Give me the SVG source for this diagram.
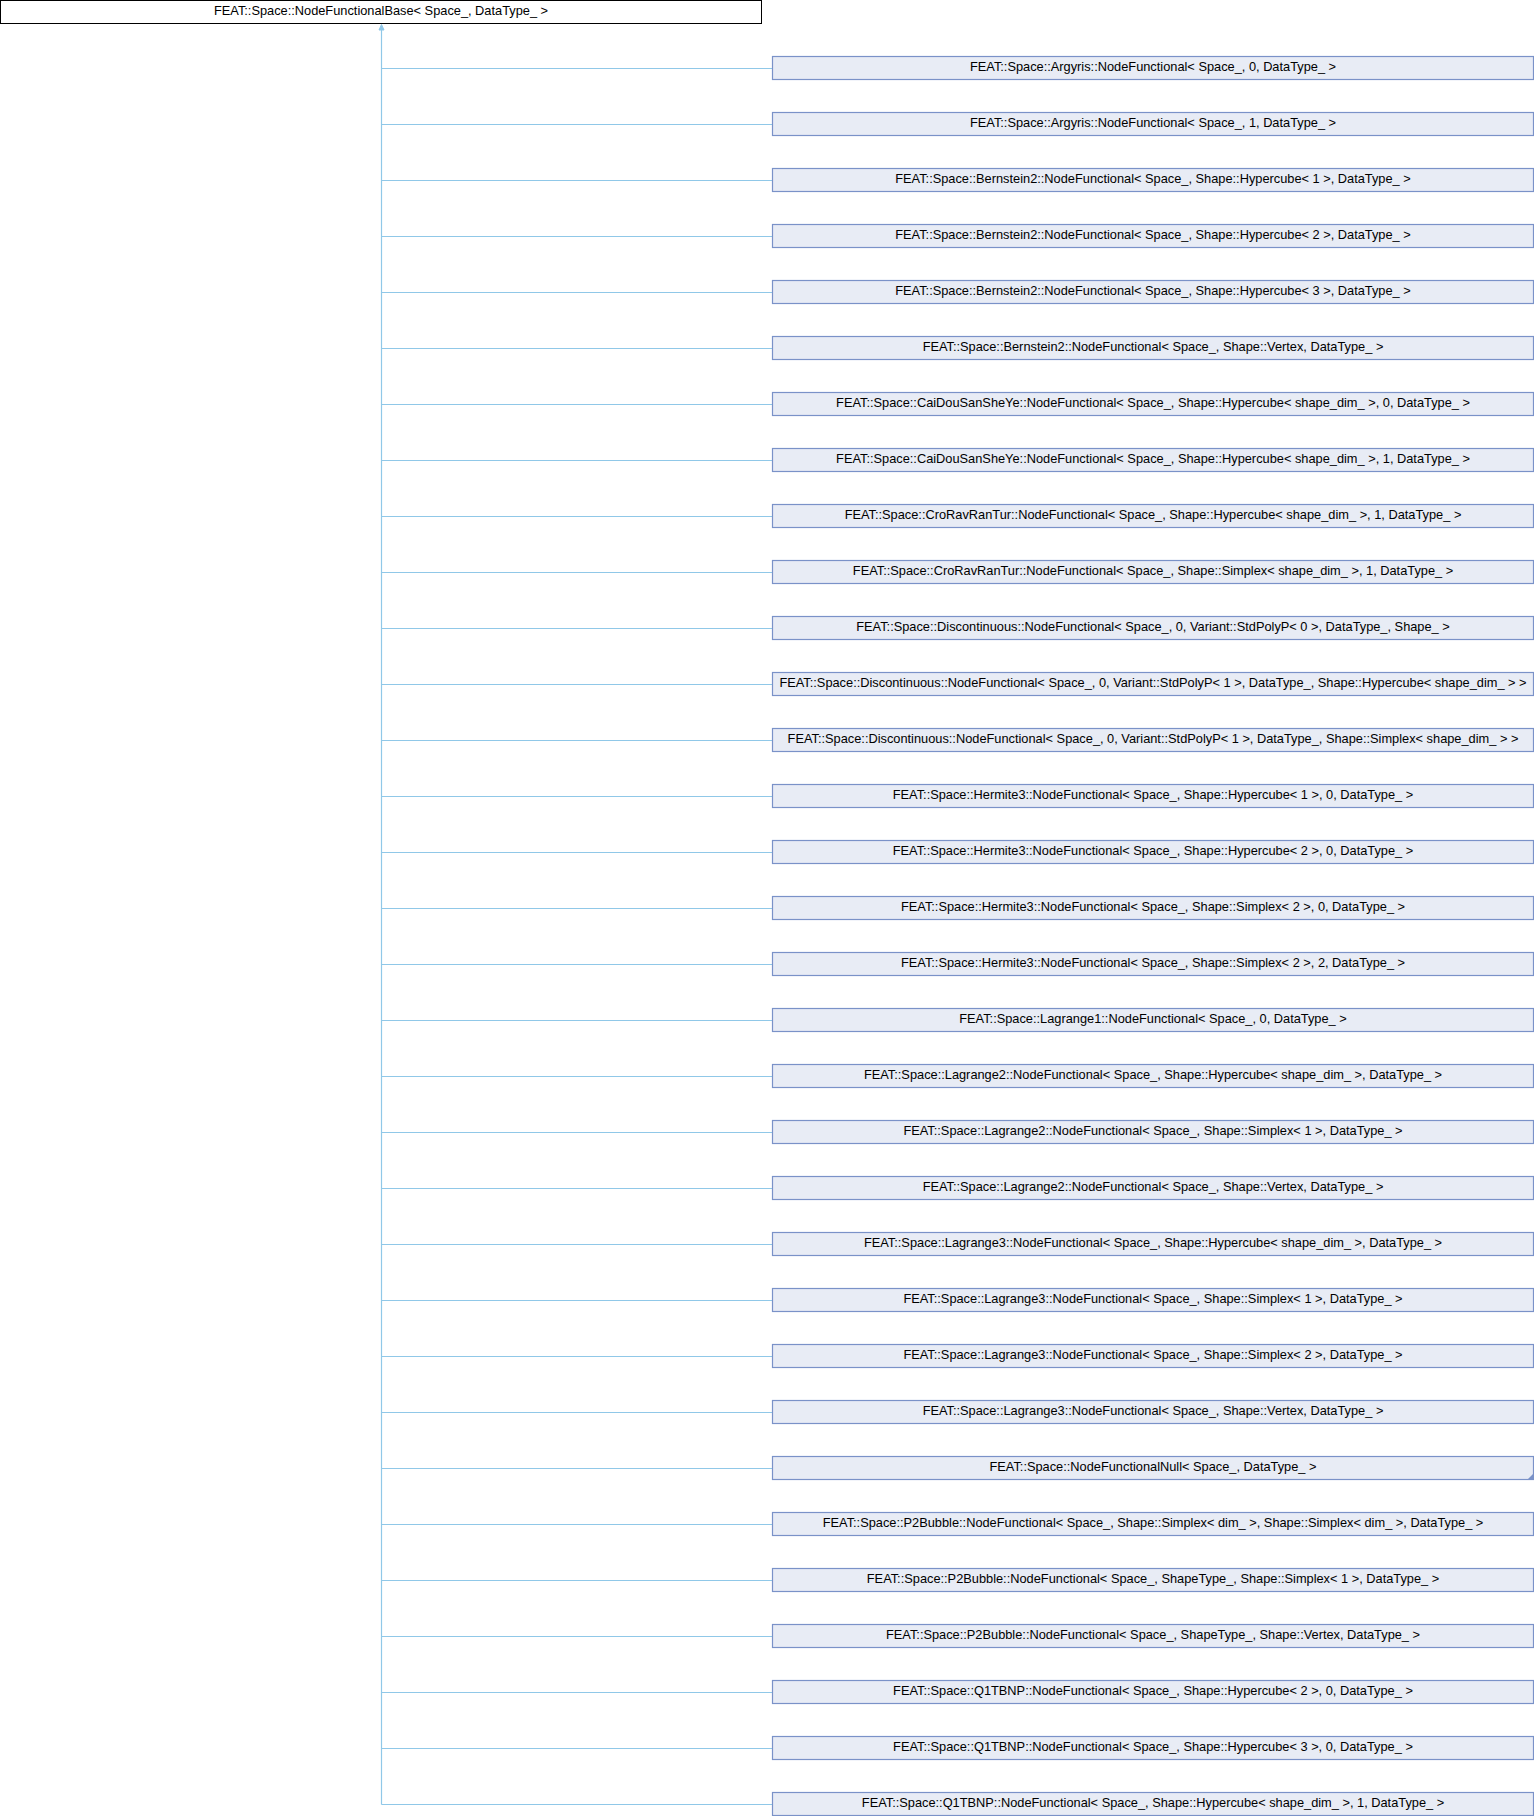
<svg xmlns="http://www.w3.org/2000/svg" width="1534" height="1816" viewBox="0 0 1534 1816">
<style>
.bg{fill:#ffffff}
.root{fill:#ffffff;stroke:#000000;stroke-width:1}
.node{fill:#E8ECF5;stroke:#7A92C8;stroke-width:1.2}
.edge{fill:none;stroke:#90C8E8;stroke-width:1.2}
.arrow{fill:#90C8E8;stroke:#90C8E8;stroke-width:1}
.mark{fill:#7A92C8}
text{font-family:"Liberation Sans",Arial,sans-serif;font-size:12.8px;fill:#000000;text-anchor:middle}
</style>
<rect class="bg" x="0" y="0" width="1534" height="1816"/>
<g id="connectors">
<path class="edge" d="M381.5,30 V1804.5"/>
<path class="edge" d="M381.5,68.5 H772.5 M381.5,124.5 H772.5 M381.5,180.5 H772.5 M381.5,236.5 H772.5 M381.5,292.5 H772.5 M381.5,348.5 H772.5 M381.5,404.5 H772.5 M381.5,460.5 H772.5 M381.5,516.5 H772.5 M381.5,572.5 H772.5 M381.5,628.5 H772.5 M381.5,684.5 H772.5 M381.5,740.5 H772.5 M381.5,796.5 H772.5 M381.5,852.5 H772.5 M381.5,908.5 H772.5 M381.5,964.5 H772.5 M381.5,1020.5 H772.5 M381.5,1076.5 H772.5 M381.5,1132.5 H772.5 M381.5,1188.5 H772.5 M381.5,1244.5 H772.5 M381.5,1300.5 H772.5 M381.5,1356.5 H772.5 M381.5,1412.5 H772.5 M381.5,1468.5 H772.5 M381.5,1524.5 H772.5 M381.5,1580.5 H772.5 M381.5,1636.5 H772.5 M381.5,1692.5 H772.5 M381.5,1748.5 H772.5 M381.5,1804.5 H772.5"/>
<polygon class="arrow" points="381.5,24.5 384,30 379,30"/>
</g>
<g id="root"><rect class="root" x="0.5" y="0.5" width="761" height="23"/><text x="381" y="15">FEAT::Space::NodeFunctionalBase&lt; Space_, DataType_ &gt;</text></g>
<g id="n1"><rect class="node" x="772.5" y="56.5" width="761" height="23"/><text x="1153" y="71">FEAT::Space::Argyris::NodeFunctional&lt; Space_, 0, DataType_ &gt;</text></g>
<g id="n2"><rect class="node" x="772.5" y="112.5" width="761" height="23"/><text x="1153" y="127">FEAT::Space::Argyris::NodeFunctional&lt; Space_, 1, DataType_ &gt;</text></g>
<g id="n3"><rect class="node" x="772.5" y="168.5" width="761" height="23"/><text x="1153" y="183">FEAT::Space::Bernstein2::NodeFunctional&lt; Space_, Shape::Hypercube&lt; 1 &gt;, DataType_ &gt;</text></g>
<g id="n4"><rect class="node" x="772.5" y="224.5" width="761" height="23"/><text x="1153" y="239">FEAT::Space::Bernstein2::NodeFunctional&lt; Space_, Shape::Hypercube&lt; 2 &gt;, DataType_ &gt;</text></g>
<g id="n5"><rect class="node" x="772.5" y="280.5" width="761" height="23"/><text x="1153" y="295">FEAT::Space::Bernstein2::NodeFunctional&lt; Space_, Shape::Hypercube&lt; 3 &gt;, DataType_ &gt;</text></g>
<g id="n6"><rect class="node" x="772.5" y="336.5" width="761" height="23"/><text x="1153" y="351">FEAT::Space::Bernstein2::NodeFunctional&lt; Space_, Shape::Vertex, DataType_ &gt;</text></g>
<g id="n7"><rect class="node" x="772.5" y="392.5" width="761" height="23"/><text x="1153" y="407">FEAT::Space::CaiDouSanSheYe::NodeFunctional&lt; Space_, Shape::Hypercube&lt; shape_dim_ &gt;, 0, DataType_ &gt;</text></g>
<g id="n8"><rect class="node" x="772.5" y="448.5" width="761" height="23"/><text x="1153" y="463">FEAT::Space::CaiDouSanSheYe::NodeFunctional&lt; Space_, Shape::Hypercube&lt; shape_dim_ &gt;, 1, DataType_ &gt;</text></g>
<g id="n9"><rect class="node" x="772.5" y="504.5" width="761" height="23"/><text x="1153" y="519">FEAT::Space::CroRavRanTur::NodeFunctional&lt; Space_, Shape::Hypercube&lt; shape_dim_ &gt;, 1, DataType_ &gt;</text></g>
<g id="n10"><rect class="node" x="772.5" y="560.5" width="761" height="23"/><text x="1153" y="575">FEAT::Space::CroRavRanTur::NodeFunctional&lt; Space_, Shape::Simplex&lt; shape_dim_ &gt;, 1, DataType_ &gt;</text></g>
<g id="n11"><rect class="node" x="772.5" y="616.5" width="761" height="23"/><text x="1153" y="631">FEAT::Space::Discontinuous::NodeFunctional&lt; Space_, 0, Variant::StdPolyP&lt; 0 &gt;, DataType_, Shape_ &gt;</text></g>
<g id="n12"><rect class="node" x="772.5" y="672.5" width="761" height="23"/><text x="1153" y="687">FEAT::Space::Discontinuous::NodeFunctional&lt; Space_, 0, Variant::StdPolyP&lt; 1 &gt;, DataType_, Shape::Hypercube&lt; shape_dim_ &gt; &gt;</text></g>
<g id="n13"><rect class="node" x="772.5" y="728.5" width="761" height="23"/><text x="1153" y="743">FEAT::Space::Discontinuous::NodeFunctional&lt; Space_, 0, Variant::StdPolyP&lt; 1 &gt;, DataType_, Shape::Simplex&lt; shape_dim_ &gt; &gt;</text></g>
<g id="n14"><rect class="node" x="772.5" y="784.5" width="761" height="23"/><text x="1153" y="799">FEAT::Space::Hermite3::NodeFunctional&lt; Space_, Shape::Hypercube&lt; 1 &gt;, 0, DataType_ &gt;</text></g>
<g id="n15"><rect class="node" x="772.5" y="840.5" width="761" height="23"/><text x="1153" y="855">FEAT::Space::Hermite3::NodeFunctional&lt; Space_, Shape::Hypercube&lt; 2 &gt;, 0, DataType_ &gt;</text></g>
<g id="n16"><rect class="node" x="772.5" y="896.5" width="761" height="23"/><text x="1153" y="911">FEAT::Space::Hermite3::NodeFunctional&lt; Space_, Shape::Simplex&lt; 2 &gt;, 0, DataType_ &gt;</text></g>
<g id="n17"><rect class="node" x="772.5" y="952.5" width="761" height="23"/><text x="1153" y="967">FEAT::Space::Hermite3::NodeFunctional&lt; Space_, Shape::Simplex&lt; 2 &gt;, 2, DataType_ &gt;</text></g>
<g id="n18"><rect class="node" x="772.5" y="1008.5" width="761" height="23"/><text x="1153" y="1023">FEAT::Space::Lagrange1::NodeFunctional&lt; Space_, 0, DataType_ &gt;</text></g>
<g id="n19"><rect class="node" x="772.5" y="1064.5" width="761" height="23"/><text x="1153" y="1079">FEAT::Space::Lagrange2::NodeFunctional&lt; Space_, Shape::Hypercube&lt; shape_dim_ &gt;, DataType_ &gt;</text></g>
<g id="n20"><rect class="node" x="772.5" y="1120.5" width="761" height="23"/><text x="1153" y="1135">FEAT::Space::Lagrange2::NodeFunctional&lt; Space_, Shape::Simplex&lt; 1 &gt;, DataType_ &gt;</text></g>
<g id="n21"><rect class="node" x="772.5" y="1176.5" width="761" height="23"/><text x="1153" y="1191">FEAT::Space::Lagrange2::NodeFunctional&lt; Space_, Shape::Vertex, DataType_ &gt;</text></g>
<g id="n22"><rect class="node" x="772.5" y="1232.5" width="761" height="23"/><text x="1153" y="1247">FEAT::Space::Lagrange3::NodeFunctional&lt; Space_, Shape::Hypercube&lt; shape_dim_ &gt;, DataType_ &gt;</text></g>
<g id="n23"><rect class="node" x="772.5" y="1288.5" width="761" height="23"/><text x="1153" y="1303">FEAT::Space::Lagrange3::NodeFunctional&lt; Space_, Shape::Simplex&lt; 1 &gt;, DataType_ &gt;</text></g>
<g id="n24"><rect class="node" x="772.5" y="1344.5" width="761" height="23"/><text x="1153" y="1359">FEAT::Space::Lagrange3::NodeFunctional&lt; Space_, Shape::Simplex&lt; 2 &gt;, DataType_ &gt;</text></g>
<g id="n25"><rect class="node" x="772.5" y="1400.5" width="761" height="23"/><text x="1153" y="1415">FEAT::Space::Lagrange3::NodeFunctional&lt; Space_, Shape::Vertex, DataType_ &gt;</text></g>
<g id="n26"><rect class="node" x="772.5" y="1456.5" width="761" height="23"/><polygon class="mark" points="1527.5,1479.5 1533.5,1479.5 1533.5,1473.5"/><text x="1153" y="1471">FEAT::Space::NodeFunctionalNull&lt; Space_, DataType_ &gt;</text></g>
<g id="n27"><rect class="node" x="772.5" y="1512.5" width="761" height="23"/><text x="1153" y="1527">FEAT::Space::P2Bubble::NodeFunctional&lt; Space_, Shape::Simplex&lt; dim_ &gt;, Shape::Simplex&lt; dim_ &gt;, DataType_ &gt;</text></g>
<g id="n28"><rect class="node" x="772.5" y="1568.5" width="761" height="23"/><text x="1153" y="1583">FEAT::Space::P2Bubble::NodeFunctional&lt; Space_, ShapeType_, Shape::Simplex&lt; 1 &gt;, DataType_ &gt;</text></g>
<g id="n29"><rect class="node" x="772.5" y="1624.5" width="761" height="23"/><text x="1153" y="1639">FEAT::Space::P2Bubble::NodeFunctional&lt; Space_, ShapeType_, Shape::Vertex, DataType_ &gt;</text></g>
<g id="n30"><rect class="node" x="772.5" y="1680.5" width="761" height="23"/><text x="1153" y="1695">FEAT::Space::Q1TBNP::NodeFunctional&lt; Space_, Shape::Hypercube&lt; 2 &gt;, 0, DataType_ &gt;</text></g>
<g id="n31"><rect class="node" x="772.5" y="1736.5" width="761" height="23"/><text x="1153" y="1751">FEAT::Space::Q1TBNP::NodeFunctional&lt; Space_, Shape::Hypercube&lt; 3 &gt;, 0, DataType_ &gt;</text></g>
<g id="n32"><rect class="node" x="772.5" y="1792.5" width="761" height="23"/><text x="1153" y="1807">FEAT::Space::Q1TBNP::NodeFunctional&lt; Space_, Shape::Hypercube&lt; shape_dim_ &gt;, 1, DataType_ &gt;</text></g>
</svg>
